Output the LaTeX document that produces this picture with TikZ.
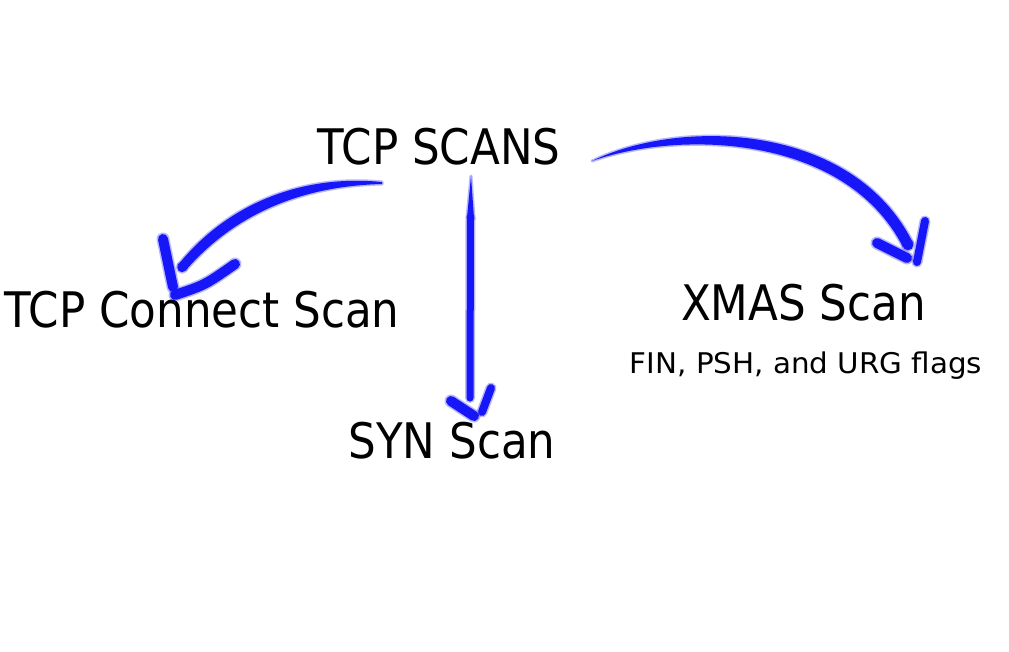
\documentclass[tikz,border=0pt]{standalone}
\usepackage{fontspec}
\setmainfont{DejaVu Sans}[FakeStretch=0.89]
\newfontfamily\smallfam{DejaVu Sans}[FakeStretch=1.03]
\definecolor{brushblue}{RGB}{22,22,248}
\begin{document}
\begin{tikzpicture}[x=1pt,y=-1pt,
  lbl/.style={inner sep=0pt, anchor=base, font=\fontsize{49}{58}\selectfont},
  smalllbl/.style={inner sep=0pt, anchor=base, font=\smallfam\fontsize{28.5}{34}\selectfont},
  brush/.style={draw=brushblue, line cap=round, line width=#1pt,
    preaction={draw=brushblue, opacity=0.3, line cap=round, line width={#1pt+3pt}}},
  brushfill/.style={fill=brushblue,
    preaction={draw=brushblue, opacity=0.3, line width=3pt, line join=round}}]
\useasboundingbox (0,0) rectangle (1009,651);
\fill[white] (0,0) rectangle (1009,651);

% labels
\node[lbl] (tcp) at (439,164) {TCP SCANS};
\node[lbl] (connect) at (202,327) {TCP Connect Scan};
\node[lbl] (syn) at (452,458) {SYN Scan};
\node[lbl] (xmas) at (803.5,320) {XMAS Scan};
\node[smalllbl] (flags) at (806,373) {FIN, PSH, and URG flags};

% named stroke points
\coordinate (v0) at (471,176);
\coordinate (v1) at (470.5,218);
\coordinate (v2) at (470,398);
\coordinate (l1) at (182,267.5);
\coordinate (r0) at (592,161);
\coordinate (r1) at (908,245);

% TCP SCANS -> SYN Scan
\fill[brushfill] (v0) -- (474,218) -- (467,218) -- cycle;
\draw[brush=7] (v1) -- (v2);
\draw[brush=10] (451,401) -- (474,416);
\draw[brush=8] (491,388) -- (482,412);

% TCP SCANS -> TCP Connect Scan
\fill[brushfill] (382,182) .. controls (300,174) and (226,205) .. (178,265)
  -- (186,270) .. controls (234,215) and (300,186) .. (382,184) -- cycle;
\fill[brushfill] (l1) circle[radius=4.7];
\draw[brush=10] (163,239) -- (173,287);
\draw[brush=10] (175,295) .. controls (205,285) .. (235,264);

% TCP SCANS -> XMAS Scan
\fill[brushfill] (r0) .. controls (680,118) and (853,122) .. (913,243)
  -- (903,247) .. controls (845,134) and (680,130) .. (r0) -- cycle;
\fill[brushfill] (r1) circle[radius=5.3];
\draw[brush=10] (877,243) -- (907,258);
\draw[brush=8] (925,221) -- (917,262);
\end{tikzpicture}
\end{document}
